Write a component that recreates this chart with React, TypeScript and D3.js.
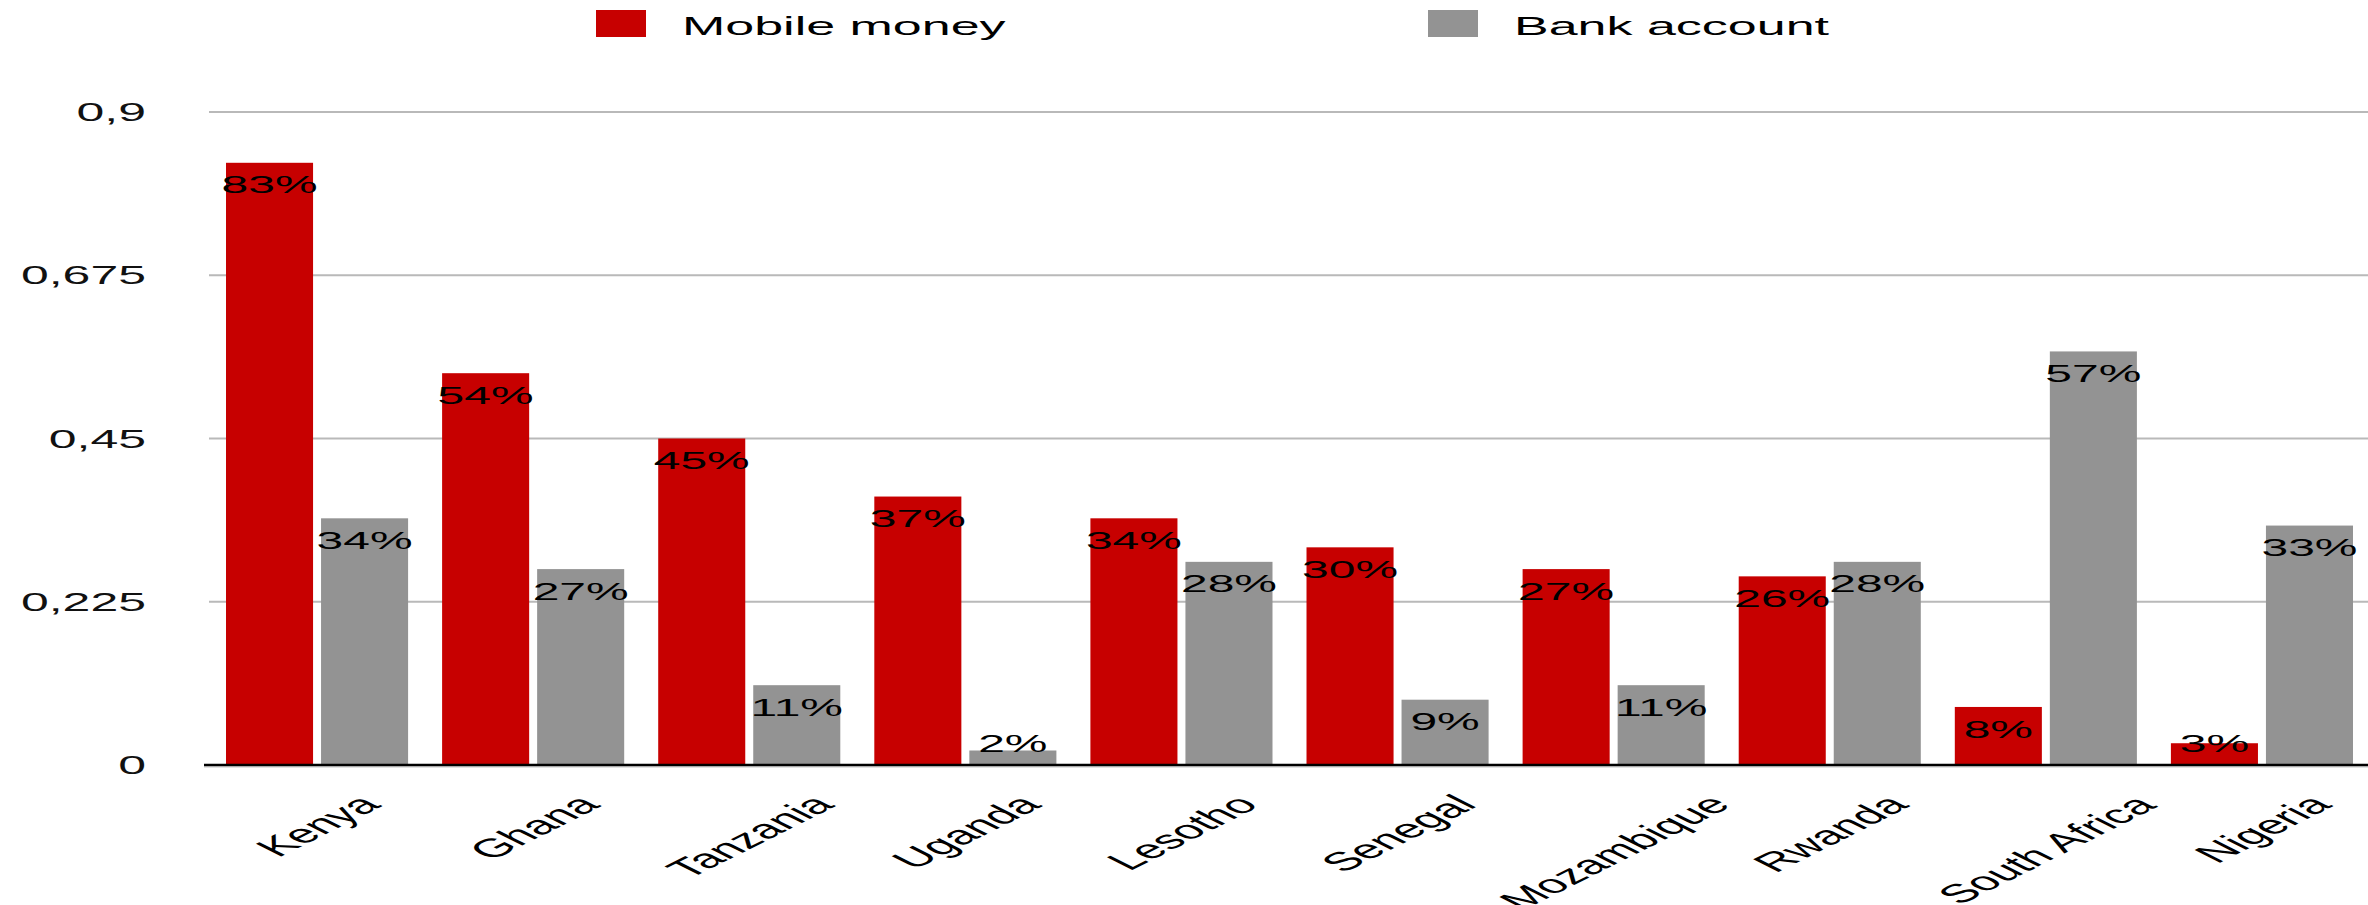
import React from "react";
import * as d3 from "d3";

const countries = ["Kenya", "Ghana", "Tanzania", "Uganda", "Lesotho", "Senegal", "Mozambique", "Rwanda", "South Africa", "Nigeria"];
const mobileMoney = [0.83, 0.54, 0.45, 0.37, 0.34, 0.30, 0.27, 0.26, 0.08, 0.03];
const bankAccount = [0.34, 0.27, 0.11, 0.02, 0.28, 0.09, 0.11, 0.28, 0.57, 0.33];
const yTicks = [0, 0.225, 0.45, 0.675, 0.9];
const seriesNames = ["Mobile money", "Bank account"];
const seriesKeys = ["mobile", "bank"];

const W = 2368;
const H = 905;
const SX = 2; // horizontal stretch of the picture
const FONT = "'Liberation Sans', Arial, sans-serif";
const colors: Record<string, string> = { mobile: "#c70000", bank: "#939393" };

const locale = d3.formatLocale({ decimal: ",", thousands: ".", grouping: [3], currency: ["", "€"] });
const fmtTick = locale.format(".3~f");
const fmtPct = d3.format(".0%");

function measure(text: string, size: number): number {
  if (typeof document === "undefined") return text.length * size * 0.55;
  const c = document.createElement("canvas");
  const ctx = c.getContext("2d");
  if (!ctx) return text.length * size * 0.55;
  ctx.font = `${size}px ${FONT}`;
  return ctx.measureText(text).width;
}

export default function App() {
  const y = d3.scaleLinear().domain([0, 0.9]).range([765, 112]);
  const x0 = d3.scaleBand<string>().domain(countries).range([209, 2370]).paddingInner(0.1574).paddingOuter(0.0787);
  const x1 = d3.scaleBand<string>().domain(seriesKeys).range([0, x0.bandwidth()]).paddingInner(0.084);

  const rows = countries.map((c, i) => ({ c, mobile: mobileMoney[i], bank: bankAccount[i] }));

  const xLabelSize = 26;
  const legendX = [596, 1428];

  return (
    <svg width={W} height={H} style={{ position: "absolute", left: 0, top: 0, background: "#fff" }} fontFamily={FONT}>
      <rect x={0} y={0} width={W} height={H} fill="#fff" />
      {/* legend */}
      {seriesKeys.map((k, i) => (
        <g key={k}>
          <rect x={legendX[i]} y={10} width={50} height={27} fill={colors[k]} />
          <g transform={`translate(${legendX[i] + 86},35) scale(${SX},1)`}>
            <text x={0} y={0} fontSize={26} fill="#000">{seriesNames[i]}</text>
          </g>
        </g>
      ))}
      {/* gridlines */}
      {yTicks.filter((t) => t > 0).map((t) => (
        <line key={t} x1={209} x2={W} y1={y(t)} y2={y(t)} stroke="#b9b9b9" strokeWidth={2} />
      ))}
      {/* y tick labels */}
      {yTicks.map((t) => (
        <g key={t} transform={`translate(146,${y(t)}) scale(${SX},1)`}>
          <text x={0} y={0} dy="0.36em" textAnchor="end" fontSize={25} fill="#111">{fmtTick(t)}</text>
        </g>
      ))}
      {/* bars */}
      {rows.map((r) => (
        <g key={r.c} transform={`translate(${x0(r.c)},0)`}>
          {seriesKeys.map((k) => {
            const v = (r as any)[k] as number;
            return (
              <rect key={k} x={x1(k)} y={y(v)} width={x1.bandwidth()} height={y(0) - y(v)} fill={colors[k]} />
            );
          })}
        </g>
      ))}
      {/* axis line */}
      <line x1={204} x2={W} y1={767} y2={767} stroke="#e2e2e2" strokeWidth={2} />
      <line x1={204} x2={W} y1={765} y2={765} stroke="#000" strokeWidth={2.5} />
      {/* data labels */}
      {rows.map((r) => (
        <g key={r.c + "-lab"}>
          {seriesKeys.map((k) => {
            const v = (r as any)[k] as number;
            const cx = (x0(r.c) as number) + (x1(k) as number) + x1.bandwidth() / 2;
            const cy = Math.min(y(v) + 22, y(0) - 22);
            return (
              <g key={k} transform={`translate(${cx},${cy}) scale(${SX},1)`}>
                <text x={0} y={0} dy="0.36em" textAnchor="middle" fontSize={24} fill="#000">{fmtPct(v)}</text>
              </g>
            );
          })}
        </g>
      ))}
      {/* x labels */}
      {countries.map((c) => {
        const L = measure(c, xLabelSize);
        const half = (L * Math.SQRT1_2 + 0.8 * xLabelSize * Math.SQRT1_2) / 2;
        const cx = (x0(c) as number) + x0.bandwidth() / 2;
        const cy = 792 + half;
        return (
          <g key={c} transform={`translate(${cx},${cy}) scale(${SX},1) rotate(-45)`}>
            <text x={0} y={0} dy="0.36em" textAnchor="middle" fontSize={xLabelSize} fill="#000">{c}</text>
          </g>
        );
      })}
    </svg>
  );
}
